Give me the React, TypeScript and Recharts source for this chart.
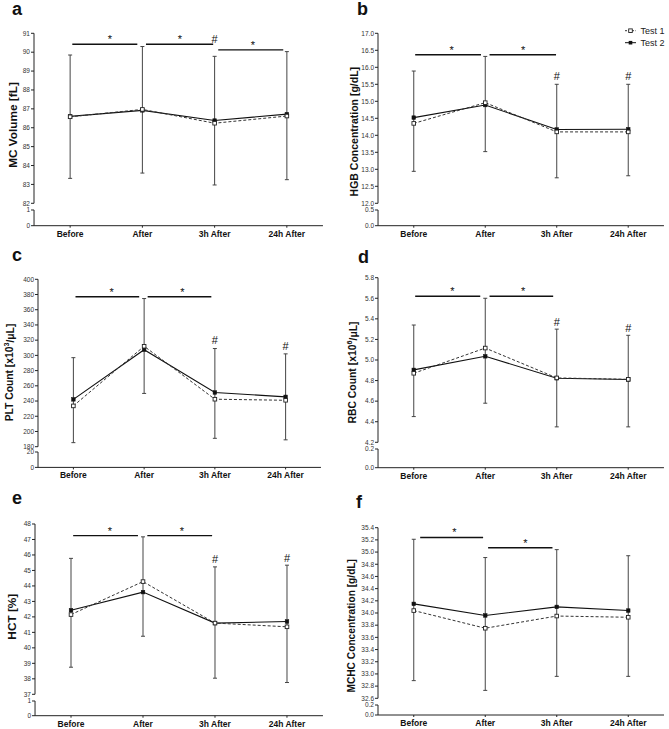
import React from 'react';
import { ComposedChart, Line, XAxis, YAxis, ErrorBar, ReferenceLine, Scatter } from 'recharts';

const categories = ['Before', 'After', '3h After', '24h After'];
const seriesNames = ['Test 1', 'Test 2'];

// a: MC Volume
const mcvTest1 = [86.58, 86.97, 86.24, 86.62];
const mcvTest2 = [86.6, 86.92, 86.38, 86.72];
const mcvLow = [83.32, 83.6, 82.97, 83.25];
const mcvHigh = [89.85, 90.3, 89.78, 90.03];
const mcvTicks = [82, 83, 84, 85, 86, 87, 88, 89, 90, 91];

// b: HGB
const hgbTest1 = [14.35, 14.96, 14.1, 14.1];
const hgbTest2 = [14.52, 14.89, 14.17, 14.18];
const hgbLow = [12.94, 13.52, 12.75, 12.81];
const hgbHigh = [15.89, 16.32, 15.5, 15.5];
const hgbTicks = [12, 12.5, 13, 13.5, 14, 14.5, 15, 15.5, 16, 16.5, 17];

// c: PLT
const pltTest1 = [233.6, 312, 242.4, 241];
const pltTest2 = [242.2, 307.5, 251.2, 245.5];
const pltLow = [185.3, 250, 191, 189];
const pltHigh = [297, 374.7, 309, 302];
const pltTicks = [180, 200, 220, 240, 260, 280, 300, 320, 340, 360, 380, 400];

// d: RBC
const rbcTest1 = [4.871, 5.116, 4.826, 4.812];
const rbcTest2 = [4.904, 5.036, 4.823, 4.81];
const rbcLow = [4.45, 4.58, 4.35, 4.35];
const rbcHigh = [5.34, 5.6, 5.3, 5.24];
const rbcTicks = [4.2, 4.4, 4.6, 4.8, 5.0, 5.2, 5.4, 5.6, 5.8];

// e: HCT
const hctTest1 = [42.15, 44.28, 41.6, 41.36];
const hctTest2 = [42.43, 43.6, 41.6, 41.7];
const hctLow = [38.75, 40.75, 38.04, 37.76];
const hctHigh = [45.78, 47.17, 45.23, 45.34];
const hctTicks = [37, 38, 39, 40, 41, 42, 43, 44, 45, 46, 47, 48];

// f: MCHC
const mchcTest1 = [34.04, 33.75, 33.95, 33.93];
const mchcTest2 = [34.15, 33.96, 34.1, 34.04];
const mchcLow = [32.89, 32.73, 32.96, 32.96];
const mchcHigh = [35.21, 34.91, 35.04, 34.94];
const mchcTicks = [32.6, 32.8, 33.0, 33.2, 33.4, 33.6, 33.8, 34.0, 34.2, 34.4, 34.6, 34.8, 35.0, 35.2, 35.4];

// significance bars: [from, to, level]; marks: [x, y, symbol]
const mcvBars = [[0.03, 0.93, 90.42], [1.05, 1.98, 90.42], [2.05, 2.95, 90.12]];
const mcvMarks = [[0.55, 90.42, '*'], [1.52, 90.42, '*'], [2.53, 90.12, '*'], [2, 90.5, '#']];
const hgbBars = [[0.02, 0.94, 16.37], [1.06, 1.99, 16.37]];
const hgbMarks = [[0.53, 16.37, '*'], [1.53, 16.37, '*'], [2, 15.62, '#'], [3, 15.62, '#']];
const pltBars = [[0.03, 0.93, 377], [1.05, 1.95, 377]];
const pltMarks = [[0.54, 377, '*'], [1.54, 377, '*'], [2, 314.7, '#'], [3, 306.7, '#']];
const rbcBars = [[0.02, 0.93, 5.62], [1.06, 1.95, 5.62]];
const rbcMarks = [[0.54, 5.62, '*'], [1.53, 5.62, '*'], [2, 5.334, '#'], [3, 5.275, '#']];
const hctBars = [[0.03, 0.93, 47.25], [1.06, 1.96, 47.25]];
const hctMarks = [[0.54, 47.25, '*'], [1.54, 47.25, '*'], [2, 45.45, '#'], [3, 45.55, '#']];
const mchcBars = [[0.09, 0.97, 35.24], [1.04, 1.94, 35.07]];
const mchcMarks = [[0.57, 35.24, '*'], [1.56, 35.07, '*']];

const FONT = "Arial, 'Liberation Sans', Helvetica, sans-serif";

type Spec = {
  letter: string;
  label: React.ReactNode;
  labelSize: number;
  t1: number[]; t2: number[]; lo: number[]; hi: number[];
  ticks: number[]; lowMax: number; decimals: number;
  bars: any[]; marks: any[];
  x0: number; y0: number; w: number; axisX: number;
  topPx: number; botPx: number; lowTopPx: number; lowBotPx: number; rightEnd: number;
  letterX: number; letterY: number; labelX: number; labelY: number;
};

const specs: Spec[] = [
  {
    letter: 'a', label: 'MC Volume [fL]', labelSize: 11.8,
    t1: mcvTest1, t2: mcvTest2, lo: mcvLow, hi: mcvHigh, ticks: mcvTicks, lowMax: 1, decimals: 0,
    bars: mcvBars, marks: mcvMarks,
    x0: 0, y0: 0, w: 335, axisX: 34, topPx: 33.3, botPx: 203.3, lowTopPx: 210, lowBotPx: 225.7, rightEnd: 323,
    letterX: 12, letterY: 15, labelX: 12.5, labelY: 125,
  },
  {
    letter: 'b', label: 'HGB Concentration [g/dL]', labelSize: 10.5,
    t1: hgbTest1, t2: hgbTest2, lo: hgbLow, hi: hgbHigh, ticks: hgbTicks, lowMax: 0.5, decimals: 1,
    bars: hgbBars, marks: hgbMarks,
    x0: 335, y0: 0, w: 334, axisX: 43, topPx: 33.3, botPx: 203.3, lowTopPx: 210, lowBotPx: 225.7, rightEnd: 329,
    letterX: 357, letterY: 15, labelX: 354, labelY: 131.7,
  },
  {
    letter: 'c',
    label: (<>PLT Count [x10<tspan dy={-3.8} fontSize="70%">3</tspan><tspan dy={3.8}>/μL]</tspan></>),
    labelSize: 10.3,
    t1: pltTest1, t2: pltTest2, lo: pltLow, hi: pltHigh, ticks: pltTicks, lowMax: 20, decimals: 0,
    bars: pltBars, marks: pltMarks,
    x0: 0, y0: 240, w: 335, axisX: 38, topPx: 39.3, botPx: 206.7, lowTopPx: 212.3, lowBotPx: 227.7, rightEnd: 321,
    letterX: 12, letterY: 261, labelX: 9.5, labelY: 372.5,
  },
  {
    letter: 'd',
    label: (<>RBC Count [x10<tspan dy={-3.8} fontSize="70%">6</tspan><tspan dy={3.8}>/μL]</tspan></>),
    labelSize: 10.4,
    t1: rbcTest1, t2: rbcTest2, lo: rbcLow, hi: rbcHigh, ticks: rbcTicks, lowMax: 0.2, decimals: 1,
    bars: rbcBars, marks: rbcMarks,
    x0: 335, y0: 240, w: 334, axisX: 43, topPx: 37.7, botPx: 202.3, lowTopPx: 209, lowBotPx: 227.7, rightEnd: 329,
    letterX: 358, letterY: 263, labelX: 352.5, labelY: 372.5,
  },
  {
    letter: 'e', label: 'HCT [%]', labelSize: 11.8,
    t1: hctTest1, t2: hctTest2, lo: hctLow, hi: hctHigh, ticks: hctTicks, lowMax: 1, decimals: 0,
    bars: hctBars, marks: hctMarks,
    x0: 0, y0: 485, w: 335, axisX: 35, topPx: 39, botPx: 209.3, lowTopPx: 216, lowBotPx: 230.7, rightEnd: 323,
    letterX: 12, letterY: 504, labelX: 12.5, labelY: 616.7,
  },
  {
    letter: 'f', label: 'MCHC Concentration [g/dL]', labelSize: 10.2,
    t1: mchcTest1, t2: mchcTest2, lo: mchcLow, hi: mchcHigh, ticks: mchcTicks, lowMax: 0.2, decimals: 1,
    bars: mchcBars, marks: mchcMarks,
    x0: 335, y0: 485, w: 334, axisX: 43, topPx: 42.7, botPx: 213.3, lowTopPx: 220, lowBotPx: 230, rightEnd: 329,
    letterX: 356, letterY: 508, labelX: 352, labelY: 625.8,
  },
];

const OpenSquare = (p: any) => {
  if (p.cx == null || p.cy == null) return <g key={p.index} />;
  return <rect key={p.index} x={p.cx - 1.8} y={p.cy - 1.8} width={3.6} height={3.6} fill="#fff" stroke="#222" strokeWidth={0.9} />;
};
const FilledSquare = (p: any) => {
  if (p.cx == null || p.cy == null) return <g key={p.index} />;
  return <rect key={p.index} x={p.cx - 1.8} y={p.cy - 1.8} width={3.6} height={3.6} fill="#111" stroke="#111" strokeWidth={0.5} />;
};
const MarkShape = (p: any) => {
  const t = p.payload?.t;
  return (
    <text x={p.cx} y={t === '*' ? p.cy - 1 : p.cy} textAnchor="middle" fontSize={11}
      fontFamily={FONT} fill="#111">{t}</text>
  );
};

function Panel({ s }: { s: Spec }) {
  const rows = categories.map((c, i) => ({
    x: i,
    name: c,
    t1: s.t1[i],
    t2: s.t2[i],
    err: [s.t2[i] - s.lo[i], s.hi[i] - s.t2[i]],
  }));
  const markData = s.marks.map((m: any) => ({ x: m[0], y: m[1], t: m[2] }));
  const mR = s.w - s.rightEnd;
  const mainH = s.botPx + 6;
  const lowPlot = s.lowBotPx - s.lowTopPx;
  const fmt = (v: number) => Number(v).toFixed(s.decimals);
  const yTick = { fontSize: 6.5, fill: '#333', fontFamily: FONT };
  const domain: [number, number] = [s.ticks[0], s.ticks[s.ticks.length - 1]];
  return (
    <>
      <div style={{ position: 'absolute', left: s.x0, top: s.y0 }}>
        <ComposedChart width={s.w} height={mainH} data={rows}
          margin={{ top: s.topPx, right: mR, left: 0, bottom: 6 }}>
          <XAxis dataKey="x" type="number" domain={[-0.5, 3.5]} hide allowDataOverflow />
          <YAxis type="number" width={s.axisX} domain={domain} ticks={s.ticks} interval={0}
            allowDataOverflow tickSize={3} tickMargin={1} tick={yTick} stroke="#222"
            tickFormatter={fmt} />
          {s.bars.map((b: any, i: number) => (
            <ReferenceLine key={'b' + i} segment={[{ x: b[0], y: b[2] }, { x: b[1], y: b[2] }]}
              stroke="#111" strokeWidth={1.4} ifOverflow="visible" />
          ))}
          <Line dataKey="t2" name={seriesNames[1]} stroke="#111" strokeWidth={1.1}
            dot={FilledSquare} activeDot={false} isAnimationActive={false}>
            <ErrorBar dataKey="err" width={2} stroke="#444" strokeWidth={1} direction="y" isAnimationActive={false} />
          </Line>
          <Line dataKey="t1" name={seriesNames[0]} stroke="#333" strokeWidth={1} strokeDasharray="3 2"
            dot={OpenSquare} activeDot={false} isAnimationActive={false} />
          <Scatter data={markData} dataKey="y" shape={MarkShape} isAnimationActive={false} />
        </ComposedChart>
      </div>
      <div style={{ position: 'absolute', left: s.x0, top: s.y0 + s.lowTopPx - 5 }}>
        <ComposedChart width={s.w} height={5 + lowPlot + 22} data={rows}
          margin={{ top: 5, right: mR, left: 0, bottom: 0 }}>
          <XAxis dataKey="x" type="number" domain={[-0.5, 3.5]} ticks={[0, 1, 2, 3]} interval={0}
            allowDataOverflow height={22} tickSize={2} tickMargin={3} stroke="#222"
            tickFormatter={(i: number) => categories[i]}
            tick={{ fontSize: 8.5, fontWeight: 'bold', fill: '#111', fontFamily: FONT }} />
          <YAxis type="number" width={s.axisX} domain={[0, s.lowMax]} ticks={[0, s.lowMax]} interval={0}
            allowDataOverflow tickSize={3} tickMargin={1} tick={yTick} stroke="#222" tickFormatter={fmt} />
        </ComposedChart>
      </div>
    </>
  );
}

export default function App() {
  return (
    <div style={{ position: 'absolute', left: 0, top: 0, width: 669, height: 729, background: '#fff', fontFamily: FONT }}>
      {specs.map((s) => <Panel key={s.letter} s={s} />)}
      <svg width={669} height={729} style={{ position: 'absolute', left: 0, top: 0, pointerEvents: 'none' }}>
        {specs.map((s) => (
          <g key={'t' + s.letter}>
            <text x={s.letterX} y={s.letterY} fontSize={18} fontWeight="bold" fontFamily={FONT} fill="#111">{s.letter}</text>
            <text x={s.labelX} y={s.labelY} transform={`rotate(-90 ${s.labelX} ${s.labelY})`}
              textAnchor="middle" dominantBaseline="central" fontSize={s.labelSize} fontWeight="bold"
              fontFamily={FONT} fill="#111">{s.label}</text>
          </g>
        ))}
        <g>
          <line x1={625} y1={30.7} x2={636} y2={30.7} stroke="#333" strokeWidth={1} strokeDasharray="2 1.5" />
          <rect x={628.7} y={28.9} width={3.6} height={3.6} fill="#fff" stroke="#222" strokeWidth={0.9} />
          <text x={640.5} y={30.7} dominantBaseline="central" fontSize={9} fontFamily={FONT} fill="#222">{seriesNames[0]}</text>
          <line x1={625} y1={42.7} x2={636} y2={42.7} stroke="#111" strokeWidth={1} />
          <rect x={628.7} y={40.9} width={3.6} height={3.6} fill="#111" />
          <text x={640.5} y={42.7} dominantBaseline="central" fontSize={9} fontFamily={FONT} fill="#222">{seriesNames[1]}</text>
        </g>
      </svg>
    </div>
  );
}
